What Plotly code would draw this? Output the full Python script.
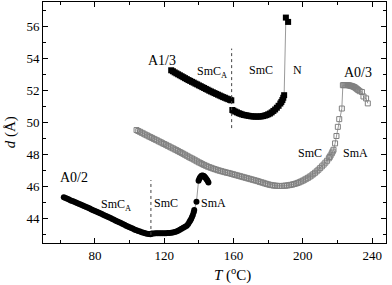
import plotly.graph_objects as go

# ---------------- data ----------------
# A1/3 : filled squares, SmC_A phase
a13_smca_T = [124, 125, 126, 127, 128, 129, 130, 131, 132, 133, 134, 135, 136, 137, 138, 139, 140, 141,
              142, 143, 144, 145, 146, 147, 148, 149, 150, 151, 152, 153, 154, 155, 156, 157, 158, 158.7]
a13_smca_d = [53.25, 53.19, 53.12, 53.06, 53.00, 52.94, 52.88, 52.82, 52.76, 52.70, 52.64, 52.59, 52.53,
              52.48, 52.42, 52.37, 52.31, 52.26, 52.20, 52.15, 52.09, 52.04, 51.98, 51.93, 51.88, 51.83,
              51.78, 51.73, 51.68, 51.63, 51.58, 51.54, 51.49, 51.45, 51.41, 51.38]
# A1/3 : SmC and N phases
a13_smc_T = [159.3, 160, 161, 162, 163, 164, 165, 166, 167, 168, 169, 170, 171, 172, 173, 174, 175, 176,
             177, 178, 179, 180, 181, 182, 183, 184, 185, 186, 187, 187.6, 188.2, 188.7, 189.2, 190.2, 191.5]
a13_smc_d = [50.78, 50.73, 50.68, 50.63, 50.58, 50.54, 50.50, 50.47, 50.45, 50.43, 50.41, 50.39, 50.38,
             50.37, 50.37, 50.37, 50.37, 50.38, 50.40, 50.43, 50.46, 50.51, 50.56, 50.63, 50.72, 50.81,
             50.92, 51.04, 51.18, 51.28, 51.40, 51.54, 51.70, 56.53, 56.26]

# A0/2 : filled circles, SmC_A phase
a02_smca_T = [62, 63, 64, 65, 66, 67, 68, 69, 70, 71, 72, 73, 74, 75, 76, 77, 78, 79, 80, 81, 82, 83, 84,
              85, 86, 87, 88, 89, 90, 91, 92, 93, 94, 95, 96, 97, 98, 99, 100, 101, 102, 103, 104, 105,
              106, 107, 108, 109, 110, 111, 112]
a02_smca_d = [45.35, 45.30, 45.25, 45.20, 45.15, 45.11, 45.06, 45.02, 44.97, 44.93, 44.88, 44.84, 44.79,
              44.74, 44.69, 44.64, 44.59, 44.54, 44.49, 44.44, 44.40, 44.35, 44.30, 44.25, 44.20, 44.15,
              44.10, 44.05, 44.00, 43.94, 43.89, 43.84, 43.79, 43.74, 43.68, 43.63, 43.58, 43.53, 43.48,
              43.43, 43.38, 43.33, 43.29, 43.25, 43.21, 43.17, 43.14, 43.11, 43.08, 43.06, 43.04]
# A0/2 : SmC and SmA phases
a02_smc_T = [112.5, 113, 114, 115, 116, 117, 118, 119, 120, 121, 122, 123, 124, 125, 126, 127, 128, 129,
             130, 131, 132, 133, 133.8, 134.5, 135, 135.5, 136, 136.5, 137, 137.3, 138.6,
             139.8, 140.2, 140.6, 141, 141.5, 142, 142.5, 143, 143.5, 144, 144.5, 145, 145.5]
a02_smc_d = [43.08, 43.09, 43.09, 43.10, 43.10, 43.10, 43.10, 43.10, 43.11, 43.11, 43.12, 43.13, 43.14,
             43.16, 43.19, 43.22, 43.27, 43.32, 43.38, 43.45, 43.51, 43.58, 43.68, 43.80, 43.90, 44.00,
             44.12, 44.25, 44.42, 44.55, 45.07,
             46.38, 46.48, 46.56, 46.63, 46.68, 46.70, 46.69, 46.65, 46.60, 46.53, 46.45, 46.37, 46.26]

# A0/3 : open squares
a03_T = [104, 105, 106, 107, 108, 109, 110, 111, 112, 113, 114, 115, 116, 117, 118, 119, 120, 121, 122,
         123, 124, 125, 126, 127, 128, 129, 130, 131, 132, 133, 134, 135, 136, 137, 138, 139, 140, 141,
         142, 143, 144, 145, 146, 147, 148, 149, 150, 151, 152, 153, 154, 155, 156, 157, 158, 159, 160,
         161, 162, 163, 164, 165, 166, 167, 168, 169, 170, 171, 172, 173, 174, 175, 176, 177, 178, 179,
         180, 181, 182, 183, 184, 185, 186, 187, 188, 189, 190, 191, 192, 193, 194, 195, 196, 197, 198,
         199, 200, 201, 202, 203, 204, 205, 206, 207, 208, 209, 210, 211, 212, 213, 214, 215, 215.5, 216,
         216.7, 217.2, 217.7, 218.6, 219.4, 220.2, 221.0, 222.5,
         223.1, 223.6, 224.2, 224.8, 225.4, 226, 226.6, 227.2, 227.8, 228.4, 229, 229.6, 230.2, 230.8,
         231.4, 232, 232.8, 234.1, 235, 236.5, 237.5]
a03_d = [49.53, 49.47, 49.42, 49.36, 49.31, 49.25, 49.20, 49.14, 49.09, 49.04, 48.98, 48.93, 48.88, 48.82,
         48.77, 48.71, 48.66, 48.61, 48.55, 48.50, 48.44, 48.39, 48.33, 48.28, 48.22, 48.16, 48.11, 48.05,
         47.99, 47.93, 47.87, 47.81, 47.76, 47.70, 47.64, 47.58, 47.52, 47.47, 47.41, 47.36, 47.31, 47.26,
         47.22, 47.18, 47.14, 47.10, 47.07, 47.03, 47.00, 46.97, 46.94, 46.91, 46.88, 46.86, 46.83, 46.80,
         46.77, 46.74, 46.71, 46.68, 46.65, 46.62, 46.59, 46.56, 46.53, 46.50, 46.47, 46.44, 46.41, 46.38,
         46.35, 46.31, 46.28, 46.25, 46.21, 46.18, 46.15, 46.12, 46.10, 46.08, 46.07, 46.06, 46.05, 46.05,
         46.05, 46.06, 46.07, 46.08, 46.10, 46.12, 46.14, 46.17, 46.20, 46.24, 46.28, 46.33, 46.38, 46.44,
         46.50, 46.56, 46.63, 46.70, 46.78, 46.87, 46.96, 47.06, 47.16, 47.27, 47.38, 47.50, 47.62, 47.77,
         47.85, 47.95, 48.08, 48.19, 48.30, 48.70, 49.16, 49.73, 50.21, 50.87,
         52.32, 52.33, 52.33, 52.33, 52.33, 52.32, 52.31, 52.30, 52.28, 52.26, 52.24, 52.21, 52.17, 52.12,
         52.07, 52.02, 51.95, 51.90, 51.62, 51.50, 51.19]

# phase transitions (dotted lines): temperature, d range
trans_T = [158.9, 112.3]
trans_d_lo = [49.65, 43.0]
trans_d_hi = [54.6, 46.42]

# labels
label_text = ["A1/3", "SmC<sub>A</sub>", "SmC", "N", "A0/3", "SmC", "SmA",
              "A0/2", "SmC<sub>A</sub>", "SmC", "SmA"]
label_T = [118.7, 147.6, 175.9, 197.0, 231.6, 204.2, 230.2, 67.7, 92.0, 120.8, 148.6]
label_d = [53.88, 53.15, 53.28, 53.28, 53.1, 48.12, 48.12, 46.59, 44.85, 44.98, 44.98]
label_size = [14, 12, 12, 12, 14, 12, 12, 14, 12, 12, 12]

x_ticks = [80, 120, 160, 200, 240]
y_ticks = [44, 46, 48, 50, 52, 54, 56]

FONT = "Liberation Serif, Times New Roman, serif"

fig = go.Figure()

line_gray = dict(color="#9a9a9a", width=1)

fig.add_trace(go.Scatter(x=a03_T, y=a03_d, mode="lines+markers", line=line_gray,
                         marker=dict(symbol="square-open", size=5, color="#808080",
                                     line=dict(width=1, color="#808080"))))
for T, d in [(a13_smca_T, a13_smca_d), (a13_smc_T, a13_smc_d)]:
    fig.add_trace(go.Scatter(x=T, y=d, mode="lines+markers", line=line_gray,
                             marker=dict(symbol="square", size=6, color="black")))
for T, d in [(a02_smca_T, a02_smca_d), (a02_smc_T, a02_smc_d)]:
    fig.add_trace(go.Scatter(x=T, y=d, mode="lines+markers", line=line_gray,
                             marker=dict(symbol="circle", size=6, color="black")))

for t, lo, hi in zip(trans_T, trans_d_lo, trans_d_hi):
    fig.add_shape(type="line", x0=t, x1=t, y0=lo, y1=hi, xref="x", yref="y",
                  line=dict(color="#444444", width=1, dash="dot"))

for txt, t, d, s in zip(label_text, label_T, label_d, label_size):
    fig.add_annotation(x=t, y=d, text=txt, showarrow=False, xref="x", yref="y",
                       font=dict(family=FONT, size=s, color="black"))

fig.add_annotation(x=0.553, y=-0.132, xref="paper", yref="paper", xanchor="center", yanchor="middle",
                   showarrow=False, text="<i>T</i> (<sup>o</sup>C)",
                   font=dict(family=FONT, size=15, color="black"))
fig.add_annotation(x=-0.096, y=0.46, xref="paper", yref="paper", xanchor="center", yanchor="middle",
                   showarrow=False, textangle=-90, text="<i>d</i> (Å)",
                   font=dict(family=FONT, size=15, color="black"))

axis_common = dict(showline=True, linecolor="black", linewidth=1, mirror="ticks", ticks="inside",
                   ticklen=5, tickwidth=1, tickcolor="black", showgrid=False, zeroline=False,
                   automargin=False, tickfont=dict(family=FONT, size=13, color="black"))

fig.update_xaxes(range=[50, 248], tickvals=x_ticks,
                 minor=dict(ticks="inside", ticklen=3, tickcolor="black", dtick=20, tick0=0),
                 **axis_common)
fig.update_yaxes(range=[42.5, 57.5], tickvals=y_ticks,
                 minor=dict(ticks="inside", ticklen=3, tickcolor="black", dtick=1, tick0=0),
                 **axis_common)

fig.update_layout(width=392, height=285, margin=dict(l=43, r=6, t=2, b=42, autoexpand=False),
                  plot_bgcolor="white", paper_bgcolor="white", showlegend=False)

fig.write_html("out.html", config={"displayModeBar": False},
               post_script="document.body.style.margin='0px';")
